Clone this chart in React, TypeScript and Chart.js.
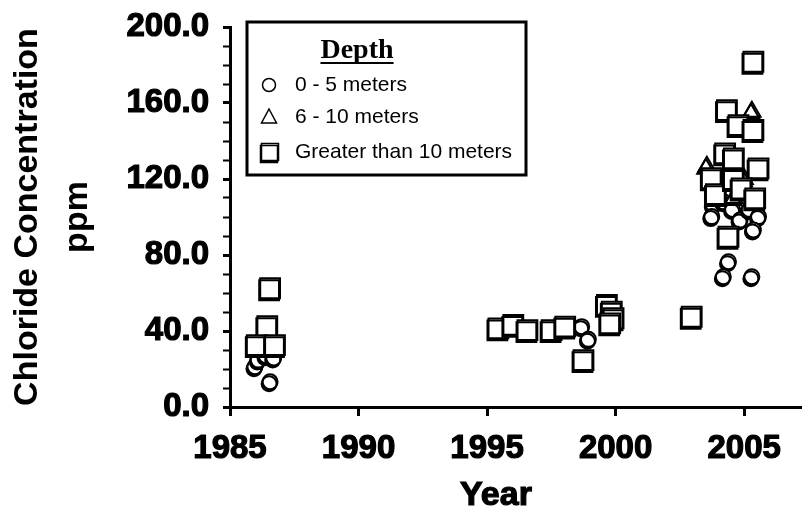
import { useEffect, useRef } from 'react';
import { Chart, registerables } from 'chart.js';

Chart.register(...registerables);

// Chloride samples, one pair of arrays per sampling depth
const shallowYears = [1985.97, 1986.1, 1986.4, 1986.7, 1986.56, 1998.68, 1998.94, 2003.8, 2003.74, 2004.2, 2004.55, 2004.84, 2005.2, 2005.56, 2005.36, 2004.39, 2004.19, 2005.3];
const shallowChloride = [21.2, 24.7, 27.0, 25.8, 13.3, 42.3, 35.6, 106.3, 100.2, 108.0, 104.0, 98.4, 104.0, 100.2, 93.2, 76.5, 68.6, 68.6];

const midYears = [1986.3, 1999.8, 2003.55, 2004.6, 2005.0, 2005.3];
const midChloride = [30.0, 47.0, 126.5, 110.0, 120.0, 155.4];

const deepYears = [1986.56, 1986.45, 1986.04, 1986.75, 1995.44, 1996.02, 1996.57, 1997.51, 1998.04, 1998.75, 1999.66, 1999.85, 1999.92, 1999.79, 2002.96, 2005.36, 2004.33, 2004.78, 2005.36, 2004.26, 2004.6, 2005.56, 2003.74, 2003.9, 2004.6, 2004.9, 2005.43, 2004.39];
const deepChloride = [62.5, 42.6, 32.6, 32.6, 41.4, 43.2, 40.5, 40.5, 42.3, 24.7, 53.7, 50.2, 46.7, 44.0, 47.5, 181.7, 156.3, 148.4, 145.8, 133.5, 130.9, 125.6, 120.4, 112.0, 120.0, 115.0, 109.8, 89.6];

const seriesLabels = ['0 - 5 meters', '6 - 10 meters', 'Greater than 10 meters'];
const legendTitle = 'Depth';
const xTickYears = [1985, 1990, 1995, 2000, 2005];
const yLabelledTicks = [0, 40, 80, 120, 160, 200];
const yMinorStep = 10;
const yAxisTitle = ['Chloride Concentration', 'ppm'];
const xAxisTitle = 'Year';

const SANS = '"Liberation Sans", Arial, sans-serif';
const SERIF = '"Liberation Serif", "Times New Roman", serif';

const toPoints = (xs: number[], ys: number[]) => xs.map((x, i) => ({ x, y: ys[i] }));

// Offset black shadow under every marker (heavier bottom edge)
const markerShadow = {
  id: 'markerShadow',
  beforeDatasetsDraw(chart: any) {
    const ctx = chart.ctx;
    ctx.save();
    ctx.shadowColor = '#000';
    ctx.shadowOffsetX = -1;
    ctx.shadowOffsetY = 2;
    ctx.shadowBlur = 0;
  },
  afterDatasetsDraw(chart: any) {
    chart.ctx.restore();
  },
};

function drawMarker(ctx: CanvasRenderingContext2D, style: string, x: number, y: number) {
  ctx.beginPath();
  if (style === 'circle') {
    ctx.arc(x, y, 6.5, 0, Math.PI * 2);
  } else if (style === 'triangle') {
    ctx.moveTo(x, y - 8);
    ctx.lineTo(x + 7.5, y + 6);
    ctx.lineTo(x - 7.5, y + 6);
    ctx.closePath();
  } else {
    ctx.rect(x - 8.5, y - 8.5, 17, 17);
  }
  ctx.fill();
  ctx.stroke();
}

// Boxed legend in the upper left of the plot
const depthLegend = {
  id: 'depthLegend',
  afterDraw(chart: any) {
    const { ctx, chartArea } = chart;
    const left = chartArea.left + 17;
    const top = chartArea.top - 5;
    const w = 279;
    const h = 153;
    ctx.save();
    ctx.fillStyle = '#fff';
    ctx.fillRect(left, top, w, h);
    ctx.lineWidth = 3;
    ctx.strokeStyle = '#000';
    ctx.strokeRect(left, top, w, h);

    ctx.fillStyle = '#000';
    ctx.font = `bold 28px ${SERIF}`;
    ctx.textAlign = 'center';
    ctx.textBaseline = 'middle';
    const tx = left + 110;
    ctx.fillText(legendTitle, tx, top + 29);
    const tw = ctx.measureText(legendTitle).width;
    ctx.fillRect(tx - tw / 2, top + 40, tw, 2);

    const rows = [63, 95, 130];
    chart.data.datasets.forEach((ds: any, i: number) => {
      const y = top + rows[i];
      ctx.fillStyle = '#fff';
      ctx.strokeStyle = '#000';
      ctx.lineWidth = 1.5;
      if (ds.pointStyle === 'rect') {
        ctx.save();
        ctx.shadowColor = '#000';
        ctx.shadowOffsetX = -1;
        ctx.shadowOffsetY = 2;
        drawMarker(ctx, ds.pointStyle, left + 23, y);
        ctx.restore();
      } else {
        drawMarker(ctx, ds.pointStyle, left + 22, y);
      }
      ctx.fillStyle = '#000';
      ctx.font = `21px ${SANS}`;
      ctx.textAlign = 'left';
      ctx.fillText(ds.label, left + 48, y);
    });
    ctx.restore();
  },
};

// Horizontal axis title
const yearTitle = {
  id: 'yearTitle',
  afterDraw(chart: any) {
    const { ctx, chartArea } = chart;
    ctx.save();
    ctx.fillStyle = '#000';
    ctx.strokeStyle = '#000';
    ctx.lineWidth = 1.2;
    ctx.font = `bold 34px ${SANS}`;
    ctx.textAlign = 'center';
    ctx.textBaseline = 'middle';
    const x = chartArea.left + (chartArea.right - chartArea.left) * 0.465;
    const y = chartArea.bottom + 89;
    ctx.fillText(xAxisTitle, x, y);
    ctx.strokeText(xAxisTitle, x, y);
    ctx.restore();
  },
};

export default function App() {
  const canvasRef = useRef<HTMLCanvasElement>(null);

  useEffect(() => {
    const canvas = canvasRef.current;
    if (!canvas) return;
    const markerBase = {
      backgroundColor: '#fff',
      borderColor: '#000',
      borderWidth: 2,
      showLine: false,
    };
    const tickFont = { family: SANS, size: 33, weight: 'bold' };
    const chart = new Chart(canvas, {
      type: 'scatter',
      data: {
        datasets: [
          { ...markerBase, label: seriesLabels[0], data: toPoints(shallowYears, shallowChloride), pointStyle: 'circle', pointRadius: 7.5, order: 2 },
          { ...markerBase, label: seriesLabels[1], data: toPoints(midYears, midChloride), pointStyle: 'triangle', pointRadius: 10, order: 1 },
          { ...markerBase, label: seriesLabels[2], data: toPoints(deepYears, deepChloride), pointStyle: 'rect', pointRadius: 14, order: 0 },
        ],
      },
      options: {
        responsive: false,
        animation: false,
        events: [],
        layout: { autoPadding: false, padding: { top: 27, right: 0, bottom: 0, left: 0 } },
        plugins: {
          legend: { display: false },
          tooltip: { enabled: false },
        },
        scales: {
          x: {
            type: 'linear',
            min: 1985,
            max: 2007.25,
            afterBuildTicks: (scale: any) => {
              scale.ticks = xTickYears.map((value) => ({ value }));
            },
            afterFit: (scale: any) => {
              scale.height = 107;
            },
            grid: { drawOnChartArea: false, drawTicks: true, tickLength: 9, tickWidth: 3, tickColor: '#000' },
            border: { display: true, color: '#000', width: 3 },
            ticks: {
              color: '#000',
              autoSkip: false,
              maxRotation: 0,
              padding: 13,
              font: tickFont,
              textStrokeColor: '#000',
              textStrokeWidth: 1.2,
              callback: (v: any) => String(v),
            },
          },
          y: {
            type: 'linear',
            min: 0,
            max: 200,
            afterBuildTicks: (scale: any) => {
              const ticks = [];
              for (let v = yLabelledTicks[0]; v <= yLabelledTicks[yLabelledTicks.length - 1]; v += yMinorStep) {
                ticks.push({ value: v });
              }
              scale.ticks = ticks;
            },
            afterFit: (scale: any) => {
              scale.width = 230;
              scale.paddingTop = 20;
              scale.paddingBottom = 20;
            },
            grid: {
              drawOnChartArea: false,
              drawTicks: true,
              tickLength: 7,
              tickWidth: (c: any) => (yLabelledTicks.includes(c.tick?.value) ? 3 : 2),
              tickColor: '#000',
            },
            border: { display: true, color: '#000', width: 3 },
            ticks: {
              color: '#000',
              autoSkip: false,
              padding: 14,
              font: tickFont,
              textStrokeColor: '#000',
              textStrokeWidth: 1.2,
              callback: (v: any) => (yLabelledTicks.includes(v) ? Number(v).toFixed(1) : ''),
            },
            title: {
              display: true,
              text: yAxisTitle,
              color: '#000',
              font: { family: SANS, size: 34, weight: 'bold', lineHeight: 50 / 34 },
              padding: { top: 3, bottom: 0 },
            },
          },
        },
      },
      plugins: [markerShadow, depthLegend, yearTitle],
    } as any);
    return () => chart.destroy();
  }, []);

  return (
    <div style={{ position: 'absolute', left: 0, top: 0, width: 802, height: 514, background: '#fff' }}>
      <canvas ref={canvasRef} width={802} height={514} style={{ display: 'block', width: 802, height: 514 }} />
    </div>
  );
}
